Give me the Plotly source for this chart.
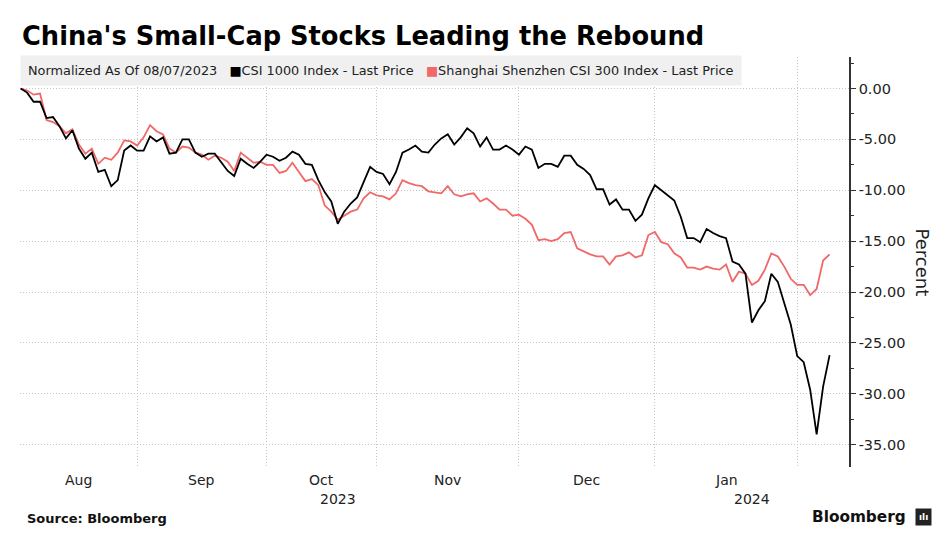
import plotly.graph_objects as go

# ---- data (trading-day index from 08/07/2023, normalized %) ----
csi1000 = [0.0, -0.4, -1.3, -1.3, -2.9, -2.8, -3.7, -4.9, -4.1, -5.9,
           -6.9, -6.3, -8.2, -8.0, -9.6, -9.0, -6.1, -5.6, -6.1, -6.1,
           -4.7, -5.2, -4.8, -6.4, -6.3, -5.0, -5.0, -6.3, -6.7, -6.4,
           -6.4, -7.3, -8.1, -8.6, -6.9, -7.4, -7.8, -7.2, -6.5, -6.7,
           -7.1, -6.8, -6.2, -6.5, -7.4, -7.5, -9.0, -10.2, -11.1, -13.3,
           -12.1, -11.3, -10.7, -9.2, -7.7, -8.2, -8.4, -9.4, -8.2, -6.3,
           -6.0, -5.6, -6.2, -6.3, -5.5, -4.9, -4.5, -5.5, -4.8, -3.9,
           -4.4, -5.7, -4.8, -6.0, -6.0, -5.6, -6.0, -6.5, -5.7, -6.0,
           -7.8, -7.4, -7.4, -7.7, -6.6, -6.6, -7.5, -7.9, -8.5, -9.9,
           -9.9, -11.4, -10.9, -11.9, -11.9, -13.0, -12.4, -10.8, -9.5, -10.0,
           -10.5, -11.0, -12.6, -14.7, -14.7, -15.1, -13.8, -14.2, -14.5, -14.7,
           -17.0, -17.3, -18.2, -23.0, -21.8, -20.9, -18.2, -19.0, -21.1, -23.2,
           -26.3, -26.9, -29.6, -34.0, -29.3, -26.2]
csi300 = [0.0, -0.2, -0.6, -0.5, -3.1, -3.3, -3.7, -4.4, -4.0, -5.5,
          -6.4, -5.9, -7.4, -6.8, -7.0, -6.3, -5.1, -5.2, -5.6, -4.8,
          -3.6, -4.2, -4.5, -5.9, -6.3, -5.7, -5.8, -6.3, -6.5, -7.0,
          -6.6, -6.8, -7.2, -8.1, -6.3, -6.8, -7.3, -7.2, -7.5, -7.5,
          -8.3, -8.1, -7.3, -8.2, -9.1, -8.9, -9.5, -11.5, -12.1, -12.9,
          -12.5, -12.1, -11.9, -10.8, -10.2, -10.5, -10.6, -10.9, -10.3, -9.0,
          -9.3, -9.5, -9.6, -10.1, -10.2, -10.3, -9.6, -10.4, -10.6, -10.4,
          -10.3, -11.1, -10.8, -11.3, -11.9, -11.9, -12.5, -12.4, -12.8, -13.4,
          -14.9, -14.8, -15.0, -14.8, -14.2, -14.1, -15.7, -16.0, -16.3, -16.5,
          -16.5, -17.3, -16.5, -16.4, -16.1, -16.6, -16.4, -14.4, -14.1, -15.1,
          -15.3, -16.2, -16.6, -17.6, -17.6, -17.8, -17.5, -17.7, -17.8, -17.3,
          -19.0, -18.0, -18.2, -19.3, -18.9, -17.8, -16.2, -16.5, -17.5, -18.7,
          -19.3, -19.3, -20.3, -19.7, -16.9, -16.3]
days = list(range(len(csi1000)))

# month boundaries (index of last trading day of each month) and labels
month_bounds = [18, 38, 55, 77, 98, 120]
month_labels = ["Aug", "Sep", "Oct", "Nov", "Dec", "Jan"]
year_labels = ["2023", "2024"]
x_range = [-0.1, 128]
y_ticks = [0, -5, -10, -15, -20, -25, -30, -35]

black = "#000000"
red = "#f06868"
font = "DejaVu Sans"
grid = "#c4c4c4"

fig = go.Figure()
fig.add_trace(go.Scatter(x=days, y=csi300, mode="lines",
                         line=dict(color=red, width=1.8), name="CSI 300"))
fig.add_trace(go.Scatter(x=days, y=csi1000, mode="lines",
                         line=dict(color=black, width=1.8), name="CSI 1000"))

starts = [0] + month_bounds[:-1]
month_centers = [(a + b) / 2 for a, b in zip(starts, month_bounds)]
year_centers = [(0 + month_bounds[4]) / 2, (month_bounds[4] + x_range[1]) / 2]

ann = []
for xc, lab in zip(month_centers, month_labels):
    ann.append(dict(x=xc, y=0, xref="x", yref="paper", text=lab, showarrow=False,
                    yanchor="top", yshift=-3, font=dict(family=font, size=14, color="#222")))
for xc, lab in zip(year_centers, year_labels):
    ann.append(dict(x=xc, y=0, xref="x", yref="paper", text=lab, showarrow=False,
                    yanchor="top", yshift=-22, font=dict(family=font, size=14, color="#222")))

legend_text = ("Normalized As Of 08/07/2023\u00a0\u00a0\u00a0"
               f"<span style='color:{black}'>■</span>CSI 1000 Index - Last Price\u00a0\u00a0\u00a0"
               f"<span style='color:{red}'>■</span>Shanghai Shenzhen CSI 300 Index - Last Price")
ann.append(dict(x=0, y=1, xref="paper", yref="paper", xanchor="left", yanchor="top",
                yshift=2, text=legend_text, showarrow=False, bgcolor="#f0f0f0",
                borderpad=7, font=dict(family=font, size=12.85, color="#222")))
ann.append(dict(x=1.0857, y=0.5, xref="paper", yref="paper", text="Percent", textangle=90,
                xshift=15, showarrow=False, font=dict(family=font, size=18, color="#222")))
ann.append(dict(x=0.006, y=-0.1268, xref="paper", yref="paper", xanchor="left", yanchor="middle",
                text="<b>Source: Bloomberg</b>", showarrow=False,
                font=dict(family=font, size=13, color="#111")))
ann.append(dict(x=1.0712, y=-0.122, xref="paper", yref="paper", xanchor="right", yanchor="middle",
                text="<b>Bloomberg</b>", showarrow=False,
                font=dict(family=font, size=15.3, color="#111")))
ann.append(dict(x=1.0893, y=-0.122, xref="paper", yref="paper", xanchor="center", yanchor="middle",
                text="<b>ılı</b>", showarrow=False, bgcolor="#222", borderpad=3,
                font=dict(family=font, size=9, color="#ffffff")))

fig.update_layout(
    width=952, height=543,
    margin=dict(l=20, r=103, t=57, b=76),
    paper_bgcolor="white", plot_bgcolor="white",
    showlegend=False,
    title=dict(text="<b>China's Small-Cap Stocks Leading the Rebound</b>",
               x=22 / 952, xanchor="left", y=1 - 36 / 543, yanchor="middle",
               font=dict(family=font, size=25.7, color="#000")),
    annotations=ann,
    xaxis=dict(range=x_range, tickmode="array", tickvals=month_bounds,
               showticklabels=False, ticks="", showgrid=True, gridcolor=grid,
               griddash="1px,2px", gridwidth=1, zeroline=False, showline=False),
    yaxis=dict(side="right", range=[-37.2, 3.1], tickmode="array", tickvals=y_ticks,
               ticktext=[f"{v:.2f}" for v in y_ticks], ticks="outside", ticklen=5,
               tickcolor="#333", showline=True, linecolor="#333", linewidth=1.5,
               showgrid=True, gridcolor=grid, griddash="1px,2px", gridwidth=1,
               zeroline=False,
               minor=dict(tickmode="linear", tick0=0, dtick=2.5, ticks="outside",
                          ticklen=3, tickcolor="#333", showgrid=False),
               tickfont=dict(family=font, size=14.5, color="#222")),
)

fig.write_html("out.html")
